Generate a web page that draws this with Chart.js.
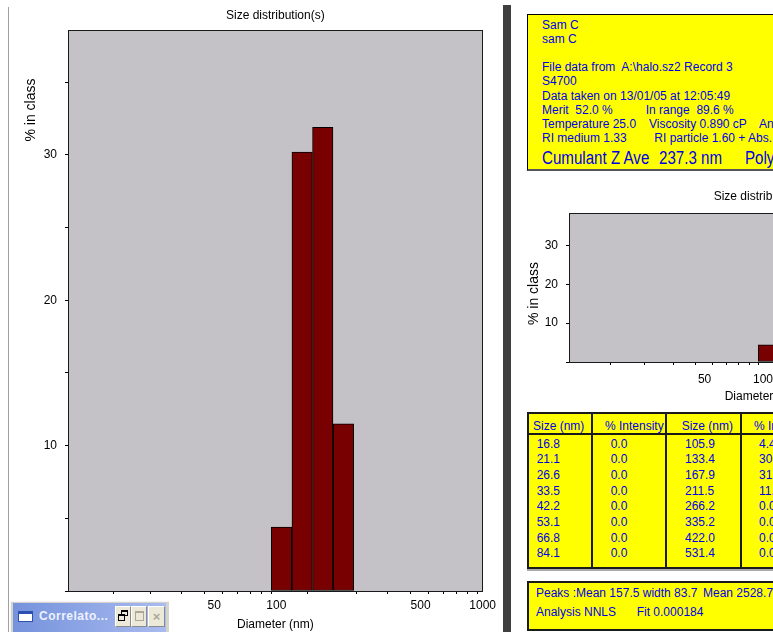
<!DOCTYPE html>
<html>
<head>
<meta charset="utf-8">
<script src="https://cdn.jsdelivr.net/npm/chart.js@4"></script>
<style>
  html, body { margin: 0; padding: 0; width: 773px; height: 632px; overflow: hidden; background: #fff; }
  body { position: relative; font-family: 'Liberation Sans', Arial, sans-serif; }
  .abs { position: absolute; }
  .t { position: absolute; white-space: pre; font: 12px/14px 'Liberation Sans', Arial, sans-serif; color: #0000e6; }
  .big { position: absolute; white-space: pre; font: 18px/21px 'Liberation Sans', Arial, sans-serif; color: #0000e6; transform: scaleX(0.84); transform-origin: 0 0; }
  .col { position: absolute; white-space: pre; font: 12px/15.7px 'Liberation Sans', Arial, sans-serif; color: #0000e6; }
  .yellow { position: absolute; background: #ffff00; box-sizing: border-box; }
  .btn { position: absolute; top: 606px; height: 21px; background: #ece9d8; box-sizing: border-box;
         border-top: 1px solid #fff; border-left: 1px solid #fff; border-right: 1px solid #8a8a8a; border-bottom: 1px solid #8a8a8a; }
</style>
</head>
<body>

<!-- window frame bits -->
<div class="abs" style="left:8px;top:7px;width:1px;height:625px;background:#a0a0a0"></div>
<div class="abs" style="left:503px;top:5px;width:8px;height:627px;background:#3f3f3f"></div>

<canvas id="mainChart" class="abs" width="500" height="632" style="left:0;top:0"></canvas>

<!-- info panel -->
<div class="yellow" style="left:527px;top:14px;width:260px;height:157px;border:1px solid #000;border-bottom:2px solid #555"></div>
<div class="t" style="left:542px;top:18px">Sam C</div>
<div class="t" style="left:542px;top:32.1px">sam C</div>
<div class="t" style="left:542px;top:60.3px">File data from  A:\halo.sz2 Record 3</div>
<div class="t" style="left:542px;top:74.4px">S4700</div>
<div class="t" style="left:542px;top:88.5px">Data taken on 13/01/05 at 12:05:49</div>
<div class="t" style="left:542px;top:102.6px">Merit  52.0 %</div>
<div class="t" style="left:645.7px;top:102.6px">In range  89.6 %</div>
<div class="t" style="left:542px;top:116.7px">Temperature 25.0</div>
<div class="t" style="left:649px;top:116.7px">Viscosity 0.890 cP</div>
<div class="t" style="left:759px;top:116.7px">Angle</div>
<div class="t" style="left:542px;top:130.8px">RI medium 1.33</div>
<div class="t" style="left:654.3px;top:130.8px">RI particle 1.60 + Abs.</div>
<div class="big" style="left:542px;top:148px">Cumulant Z Ave</div>
<div class="big" style="left:659px;top:148px">237.3 nm</div>
<div class="big" style="left:745px;top:148px">Polydispersity</div>

<canvas id="smallChart" class="abs" width="470" height="230" style="left:510px;top:180px"></canvas>

<!-- size table -->
<div class="yellow" id="sizeTable" style="left:527px;top:412px;width:300px;height:157px;border:2px solid #1a1a1a;box-shadow:0 2px 0 #aaa"></div>
<div class="abs" style="left:527px;top:433px;width:300px;height:2px;background:#1a1a1a"></div>
<div class="abs" style="left:591px;top:412px;width:2px;height:157px;background:#1a1a1a"></div>
<div class="abs" style="left:665px;top:412px;width:2px;height:157px;background:#1a1a1a"></div>
<div class="abs" style="left:740px;top:412px;width:2px;height:157px;background:#1a1a1a"></div>
<div class="t" style="left:533px;top:419px">Size (nm)</div>
<div class="t" style="left:605px;top:419px">% Intensity</div>
<div class="t" style="left:681.7px;top:419px">Size (nm)</div>
<div class="t" style="left:754px;top:419px">% Intensity</div>
<div class="col" id="c1" style="left:536.7px;top:436.5px"></div>
<div class="col" id="c2" style="left:610.7px;top:436.5px"></div>
<div class="col" id="c3" style="left:685px;top:436.5px"></div>
<div class="col" id="c4" style="left:759px;top:436.5px"></div>

<!-- peaks box -->
<div class="yellow" style="left:527px;top:581px;width:300px;height:50px;border:2px solid #1a1a1a"></div>
<div class="t" style="left:536px;top:585.7px">Peaks :Mean 157.5 width 83.7</div>
<div class="t" style="left:703px;top:585.7px">Mean 2528.7</div>
<div class="t" style="left:536px;top:605px">Analysis NNLS</div>
<div class="t" style="left:636.7px;top:605px">Fit 0.000184</div>

<!-- minimised MDI window -->
<div class="abs" style="left:10px;top:601px;width:159px;height:31px;background:#d6d3ce;border-top:1px solid #f4f4f4;border-left:1px solid #f4f4f4;box-sizing:border-box"></div>
<div class="abs" style="left:13px;top:603px;width:153px;height:29px;background:linear-gradient(to right,#7592dc,#a9bbef)"></div>
<div class="abs" style="left:18px;top:611px;width:15px;height:11px;box-sizing:border-box;background:#fff;border:1px solid #2c4fb0;border-top:3px solid #2c4fb0"></div>
<div class="abs" style="left:39px;top:609px;font:bold 12px/15px 'Liberation Sans',Arial,sans-serif;letter-spacing:0.5px;color:#eef2ff;white-space:pre">Correlato...</div>
<div class="btn" style="left:115px;width:16px">
  <div class="abs" style="left:5px;top:3px;width:7px;height:6px;box-sizing:border-box;border:1px solid #000;border-top:2px solid #000"></div>
  <div class="abs" style="left:2px;top:7px;width:7px;height:7px;box-sizing:border-box;border:1px solid #000;border-top:2px solid #000;background:#ece9d8"></div>
</div>
<div class="btn" style="left:131px;width:16px">
  <div class="abs" style="left:3px;top:4px;width:9px;height:10px;box-sizing:border-box;border:1px solid #aca899;border-top:2px solid #aca899"></div>
</div>
<div class="btn" style="left:148px;width:17px;font:bold 13px/19px 'Liberation Sans',Arial,sans-serif;color:#aca899;text-align:center">×</div>

<script>
const sizes = [16.8, 21.1, 26.6, 33.5, 42.2, 53.1, 66.8, 84.1,
               105.9, 133.4, 167.9, 211.5, 266.2, 335.2, 422.0, 531.4];
const intensity = [0.0, 0.0, 0.0, 0.0, 0.0, 0.0, 0.0, 0.0,
                   4.4, 30.2, 31.9, 11.5, 0.0, 0.0, 0.0, 0.0];
const xTickValues = [20, 30, 40, 50, 60, 70, 80, 90, 100,
                     200, 300, 400, 500, 600, 700, 800, 900, 1000];
const xTickLabels = [50, 100, 500, 1000];
const yTickValuesMain = [0, 5, 10, 15, 20, 25, 30, 35];
const yTickValuesSmall = [0, 10, 20, 30];
const yTickLabels = [10, 20, 30];

// ── table columns ──
document.getElementById('c1').textContent = sizes.slice(0, 8).map(v => v.toFixed(1)).join('\n');
document.getElementById('c2').textContent = intensity.slice(0, 8).map(v => v.toFixed(1)).join('\n');
document.getElementById('c3').textContent = sizes.slice(8).map(v => v.toFixed(1)).join('\n');
document.getElementById('c4').textContent = intensity.slice(8).map(v => v.toFixed(1)).join('\n');

Chart.defaults.font.family = "'Liberation Sans', Arial, sans-serif";
Chart.defaults.font.size = 12;
Chart.defaults.color = '#000';

// grey plot background + full frame round it
const plotFrame = {
    id: 'plotFrame',
    beforeDraw(chart) {
        const a = chart.chartArea, ctx = chart.ctx;
        ctx.save();
        ctx.fillStyle = '#c4c2c7';
        ctx.fillRect(a.left, a.top, a.right - a.left, a.bottom - a.top);
        ctx.restore();
    },
    afterDraw(chart) {
        const a = chart.chartArea, ctx = chart.ctx;
        ctx.save();
        ctx.strokeStyle = '#1a1a1a';
        ctx.lineWidth = 1;
        ctx.strokeRect(Math.round(a.left) + 0.5, Math.round(a.top) + 0.5,
                       Math.round(a.right - a.left) - 1, Math.round(a.bottom - a.top));
        ctx.restore();
    }
};

// rotated y title placed near the top like the original program
const sideTitle = {
    id: 'sideTitle',
    afterDraw(chart, args, o) {
        const ctx = chart.ctx;
        ctx.save();
        ctx.translate(o.x, o.y);
        ctx.rotate(-Math.PI / 2);
        ctx.font = "14px 'Liberation Sans', Arial, sans-serif";
        ctx.fillStyle = '#000';
        ctx.textAlign = 'center';
        ctx.textBaseline = 'middle';
        ctx.fillText(o.text, 0, 0);
        ctx.restore();
    }
};

function sizeChart(canvas, s) {
    return new Chart(canvas, {
        type: 'bar',
        data: {
            labels: sizes,
            datasets: [{
                data: intensity,
                xAxisID: 'x',
                backgroundColor: ctx => ctx.raw > 0 ? '#780000' : 'rgba(0,0,0,0)',
                borderColor: '#000',
                borderWidth: ctx => ctx.raw > 0 ? 1 : 0,
                borderSkipped: false,
                categoryPercentage: 1,
                barPercentage: 1
            }]
        },
        plugins: [plotFrame, sideTitle],
        options: {
            responsive: false,
            animation: false,
            events: [],
            layout: { padding: { right: s.padRight } },
            plugins: {
                legend: { display: false },
                tooltip: { enabled: false },
                title: { display: false },
                sideTitle: { text: '% in class', x: s.yTitleX, y: s.yTitleY }
            },
            scales: {
                // bars sit on this one (kept tick-free so bar width = bin spacing)
                x: {
                    type: 'logarithmic', display: false, min: s.xMin, max: 1000,
                    afterBuildTicks: sc => { sc.ticks = [{ value: 100 }]; }
                },
                // empty top axis, only carries the chart title centred over the plot
                top: {
                    type: 'linear', axis: 'x', position: 'top',
                    afterFit: sc => { sc.height = s.titleHeight; },
                    grid: { display: false },
                    border: { display: false },
                    ticks: { display: false },
                    title: {
                        display: true, text: 'Size distribution(s)', color: '#000',
                        font: { size: 12 }, padding: { top: s.titleTop, bottom: 0 }
                    }
                },
                xAxis: {
                    type: 'logarithmic', axis: 'x', position: 'bottom', min: s.xMin, max: 1000,
                    afterBuildTicks: sc => { sc.ticks = xTickValues.map(v => ({ value: v })); },
                    afterFit: sc => { sc.height = s.xAxisHeight; },
                    grid: { drawOnChartArea: false, drawTicks: true, tickLength: 3, color: '#000' },
                    border: { display: true, color: '#1a1a1a' },
                    ticks: {
                        autoSkip: false, maxRotation: 0, minRotation: 0, padding: s.xLabelPad, color: '#000',
                        callback: v => xTickLabels.includes(v) ? String(v) : ''
                    },
                    title: {
                        display: true, text: 'Diameter (nm)', color: '#000',
                        font: { size: 12 }, padding: { top: 0, bottom: s.xTitlePad }
                    }
                },
                y: {
                    min: 0, max: s.yMax,
                    afterBuildTicks: sc => { sc.ticks = s.yTicks.map(v => ({ value: v })); },
                    afterFit: sc => { sc.width = s.yAxisWidth; },
                    grid: { drawOnChartArea: false, drawTicks: true, tickLength: 3, color: '#000' },
                    border: { display: true, color: '#1a1a1a' },
                    ticks: {
                        padding: 8, color: '#000',
                        callback: v => yTickLabels.includes(v) ? String(v) : ''
                    }
                }
            }
        }
    });
}

sizeChart(document.getElementById('mainChart'), {
    xMin: 9.78, yMax: 38.6, yTicks: yTickValuesMain,
    yAxisWidth: 68, xAxisHeight: 41, titleHeight: 30, titleTop: 8, padRight: 16,
    yTitleX: 31, yTitleY: 110, xLabelPad: 4, xTitlePad: 0
});

sizeChart(document.getElementById('smallChart'), {
    xMin: 10, yMax: 38.3, yTicks: yTickValuesSmall,
    yAxisWidth: 59, xAxisHeight: 48, titleHeight: 33, titleTop: 9.5, padRight: 23,
    yTitleX: 24, yTitleY: 113.5, xLabelPad: 7, xTitlePad: 6
});
</script>
</body>
</html>
